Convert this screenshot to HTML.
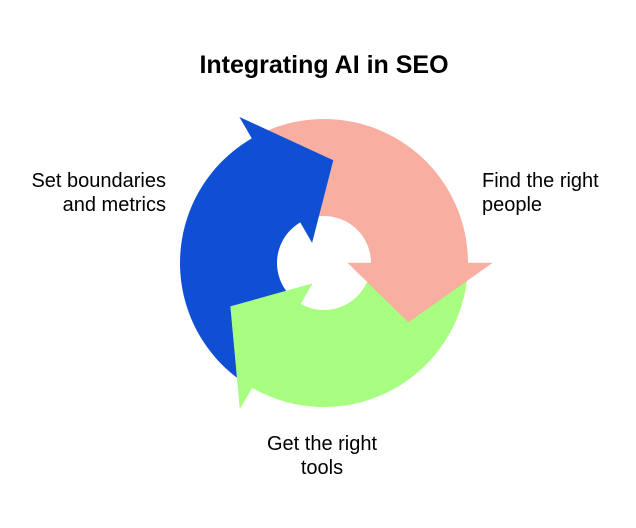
<!DOCTYPE html>
<html><head><style>
body{margin:0;width:636px;height:528px;background:#fff;overflow:hidden}
svg{display:block}
text{font-family:"Liberation Sans",Arial,sans-serif;fill:#000}
</style></head><body>
<svg width="636" height="528" viewBox="0 0 636 528">
<text x="324" y="73" font-size="25" font-weight="bold" text-anchor="middle">Integrating AI in SEO</text>
<g transform="translate(324,263)">
  <path d="M-72,-124.7 A144,144 0 0 1 144,0 L47,0 A47,47 0 0 0 -23.5,-40.7 Z" fill="#F8AEA0"/>
  <path transform="rotate(120)" d="M-72,-124.7 A144,144 0 0 1 144,0 L47,0 A47,47 0 0 0 -23.5,-40.7 Z" fill="#A8FE80"/>
  <path transform="rotate(240)" d="M-72,-124.7 A144,144 0 0 1 144,0 L47,0 A47,47 0 0 0 -23.5,-40.7 Z" fill="#0F4FD3"/>
  <path d="M24,0 L168,0 L84.4,59.1 Z" fill="#F8AEA0" stroke="#F8AEA0" stroke-width="0.5"/>
  <path transform="rotate(120)" d="M24,0 L168,0 L84.4,59.1 Z" fill="#A8FE80" stroke="#A8FE80" stroke-width="0.5"/>
  <path transform="rotate(240)" d="M24,0 L168,0 L84.4,59.1 Z" fill="#0F4FD3" stroke="#0F4FD3" stroke-width="0.5"/>
</g>
<text x="166" y="187" font-size="20" text-anchor="end">Set boundaries</text>
<text x="166" y="211" font-size="20" text-anchor="end">and metrics</text>
<text x="482" y="187" font-size="20">Find the right</text>
<text x="482" y="211" font-size="20">people</text>
<text x="322" y="450" font-size="20" text-anchor="middle">Get the right</text>
<text x="322" y="474" font-size="20" text-anchor="middle">tools</text>
</svg>
</body></html>
